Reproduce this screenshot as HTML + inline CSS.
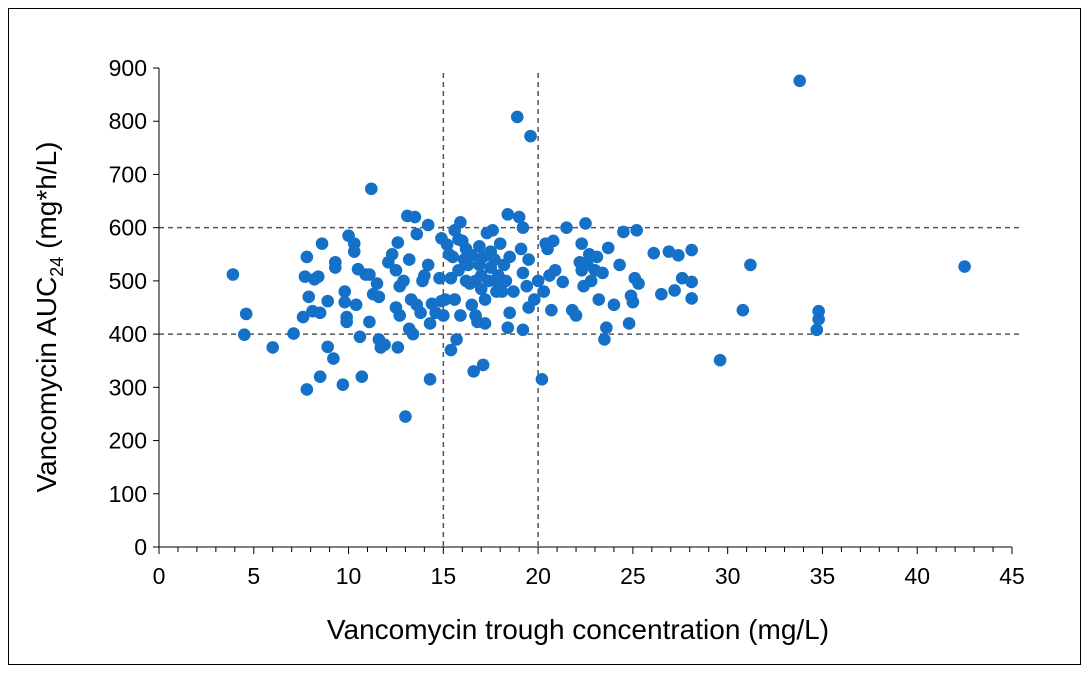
<!DOCTYPE html>
<html><head><meta charset="utf-8"><style>
body{margin:0;background:#fff;}
svg{display:block;font-family:"Liberation Sans",Arial,sans-serif;}
</style></head><body>
<svg id="chart" width="1091" height="676">
<rect x="8.5" y="8.5" width="1072" height="656" fill="#fff" stroke="#000" stroke-width="1"/>
<g id="grid"></g><g id="axes"></g><g id="pts"></g>
<text x="578" y="639" font-size="28" text-anchor="middle" fill="#000">Vancomycin trough concentration (mg/L)</text>
<text transform="translate(56,317) rotate(-90)" font-size="28" text-anchor="middle" fill="#000">Vancomycin AUC<tspan font-size="18" dy="7">24</tspan><tspan dy="-7"> (mg*h/L)</tspan></text>
</svg>
<script>
const xTicks=[0,5,10,15,20,25,30,35,40,45];
const yTicks=[0,100,200,300,400,500,600,700,800,900];
const refX=[15,20];
const refY=[400,600];
const troughVals=[3.9,4.6,4.5,6,7.1,7.6,7.7,7.8,7.8,7.9,8.1,8.2,8.4,8.5,8.5,8.6,8.9,8.9,9.2,9.3,9.3,9.7,9.8,9.8,9.9,9.9,10,10.3,10.3,10.4,10.5,10.6,10.7,10.9,11.1,11.1,11.2,11.3,11.5,11.6,11.6,11.7,11.9,12.1,12.3,12.5,12.5,12.6,12.6,12.7,12.7,12.9,13,13.1,13.2,13.2,13.3,13.4,13.5,13.6,13.6,13.8,13.9,14,14.2,14.2,14.3,14.3,14.4,14.6,14.8,14.9,14.9,15,15.1,15.2,15.3,15.4,15.4,15.5,15.6,15.6,15.7,15.8,15.8,15.9,15.9,16,16.1,16.2,16.2,16.3,16.4,16.5,16.5,16.6,16.7,16.7,16.8,16.9,16.9,17,17,17.1,17.1,17.2,17.2,17.3,17.4,17.5,17.5,17.6,17.7,17.8,17.8,17.9,18,18.1,18.2,18.3,18.4,18.4,18.5,18.5,18.7,18.9,19,19.1,19.2,19.2,19.2,19.4,19.5,19.5,19.6,19.8,20,20.2,20.3,20.4,20.5,20.6,20.7,20.8,20.9,21.3,21.5,21.8,22,22.2,22.3,22.3,22.4,22.5,22.6,22.7,22.8,23,23.1,23.2,23.4,23.5,23.6,23.7,24,24.3,24.5,24.8,24.9,25,25.1,25.2,25.3,26.1,26.5,26.9,27.2,27.4,27.6,28.1,28.1,28.1,29.6,30.8,31.2,33.8,34.7,34.8,34.8,42.5];
const aucVals=[512,438,399,375,401,432,508,545,296,470,443,503,508,320,440,570,376,462,354,535,525,305,480,460,432,423,585,570,555,455,522,395,320,512,512,423,673,475,495,470,390,375,380,535,550,520,450,572,375,490,435,500,245,622,540,410,465,400,620,588,455,440,500,510,605,530,420,315,457,440,505,580,462,435,465,568,550,505,370,545,595,465,390,578,520,610,435,575,540,560,500,530,495,548,455,330,500,435,423,565,530,510,485,545,342,465,420,590,500,555,525,595,540,500,480,510,570,480,530,500,625,412,440,545,480,808,620,560,600,515,408,490,540,450,772,465,500,315,480,570,560,510,445,575,520,498,600,445,435,535,570,520,490,608,530,550,500,520,545,465,515,390,412,562,455,530,592,420,472,460,505,595,495,552,475,555,482,548,505,558,498,467,351,445,530,876,408,443,428,527];
const X0=159,X1=1012,Y0=547,Y1=68;
const sx=v=>X0+(v-0)/(45-0)*(X1-X0);
const sy=v=>Y0-(v-0)/(900-0)*(Y0-Y1);
const NS='http://www.w3.org/2000/svg';
function mk(t,a,p){const e=document.createElementNS(NS,t);for(const k in a)e.setAttribute(k,a[k]);p.appendChild(e);return e;}
const g=document.getElementById('grid'),ax=document.getElementById('axes'),pg=document.getElementById('pts');
refX.forEach(v=>{const l=mk('line',{x1:sx(v),x2:sx(v),y1:73,y2:Y0,stroke:'#555','stroke-width':1.5,'stroke-dasharray':'5,4'},g);

});
refY.forEach(v=>{const l=mk('line',{x1:X0,x2:1022,y1:sy(v),y2:sy(v),stroke:'#555','stroke-width':1.5,'stroke-dasharray':'5,4'},g);

});
const ya=mk('line',{x1:X0,x2:X0,y1:Y1,y2:Y0,stroke:'#000','stroke-width':1},ax);


const xa=mk('line',{x1:X0,x2:X1,y1:Y0,y2:Y0,stroke:'#000','stroke-width':1},ax);


yTicks.forEach(v=>{mk('line',{x1:X0-6,x2:X0,y1:sy(v),y2:sy(v),stroke:'#000'},ax);
const t=mk('text',{x:X0-12,y:sy(v)+8,'font-size':23,'text-anchor':'end',fill:'#000'},ax);t.textContent=v;

});
for(let i=0;i<=45;i++){mk('line',{x1:sx(i),x2:sx(i),y1:Y0,y2:Y0+(i%5===0?7:5),stroke:'#000'},ax);}
xTicks.forEach(v=>{const t=mk('text',{x:sx(v),y:Y0+37,'font-size':23,'text-anchor':'middle',fill:'#000'},ax);t.textContent=v;

});
troughVals.forEach((v,i)=>{const c=mk('circle',{cx:sx(v),cy:sy(aucVals[i]),r:6.3,fill:'#1570c8'},pg);

});
</script>
</body></html>
